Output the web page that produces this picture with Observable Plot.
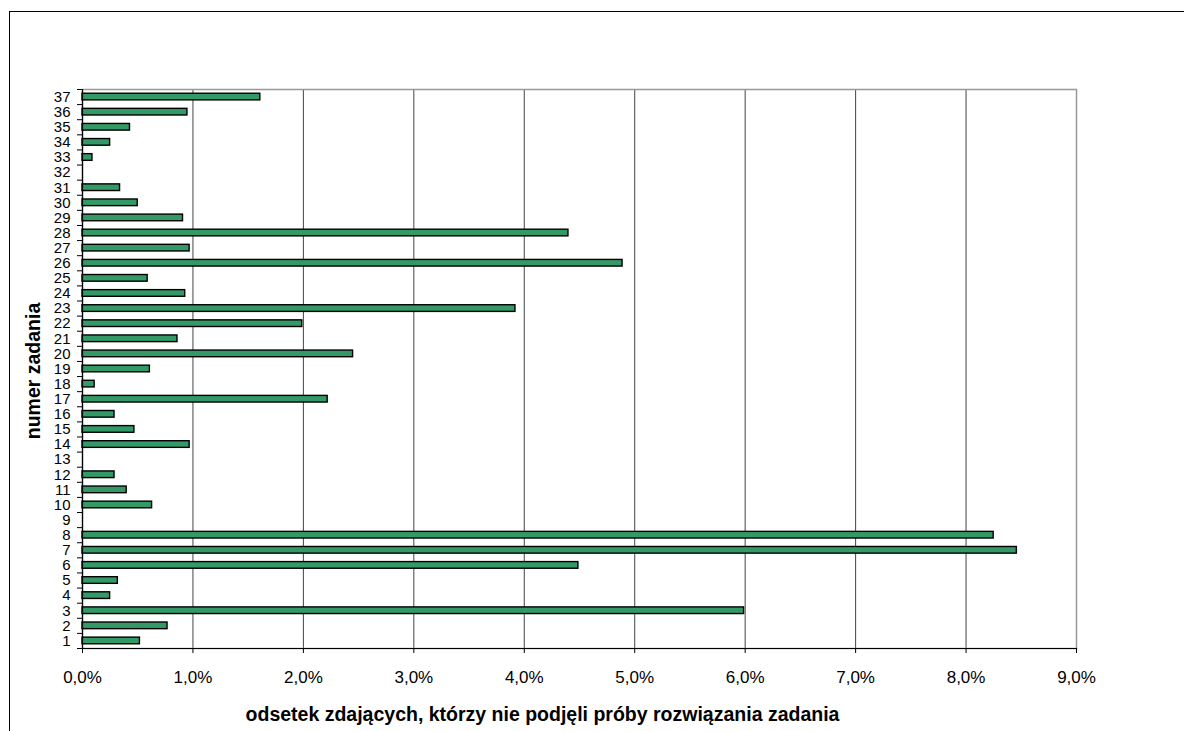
<!DOCTYPE html>
<html><head><meta charset="utf-8">
<script src="https://cdn.jsdelivr.net/npm/d3@7"></script>
<script src="https://cdn.jsdelivr.net/npm/@observablehq/plot@0.6"></script>
<style>
html,body{margin:0;padding:0;background:#fff;overflow:hidden;width:1184px;height:731px;}
#frame{position:absolute;left:9px;top:11px;width:1300px;height:900px;border-left:1px solid #000;border-top:1px solid #000;}
#chart{position:absolute;left:0;top:0;}
</style></head><body>
<div id="frame"></div>
<div id="chart"></div>
<script>
// task numbers
const tasks = [1,2,3,4,5,6,7,8,9,10,11,12,13,14,15,16,17,18,19,20,21,22,23,24,25,26,27,28,29,30,31,32,33,34,35,36,37];
// share of examinees who did not attempt the task (%)
const shares = [0.52,0.77,5.99,0.25,0.32,4.49,8.46,8.25,0,0.63,0.40,0.29,0,0.97,0.47,0.29,2.22,0.11,0.61,2.45,0.86,1.99,3.92,0.93,0.59,4.89,0.97,4.40,0.91,0.50,0.34,0,0.09,0.25,0.43,0.95,1.61];
// x tick values (%)
const xTicks = [0,1,2,3,4,5,6,7,8,9];
const xTitle = "odsetek zdających, którzy nie podjęli próby rozwiązania zadania";
const yTitle = "numer zadania";

const data = tasks.map((t, i) => ({task: t, share: shares[i]}));
const bars = data.filter(d => d.share > 0);
const rowBounds = [0, ...tasks].map(t => t + 0.5);
const fmt = v => v.toFixed(1).replace(".", ",") + "%";

const chart = Plot.plot({
  width: 1184,
  height: 731,
  marginLeft: 82,
  marginRight: 108,
  marginTop: 89,
  marginBottom: 83,
  style: {fontFamily: "'Liberation Sans', Arial, sans-serif", fontSize: "17px", color: "#000", background: "transparent", overflow: "visible"},
  x: {domain: [0, 9]},
  y: {domain: [0.5, tasks.length + 0.5]},
  marks: [
    Plot.gridX(xTicks, {stroke: "#444", strokeOpacity: 1, strokeWidth: 1}),
    Plot.frame({stroke: "#999", strokeWidth: 1.5}),
    Plot.rectX(bars, {
      x: "share",
      y1: d => d.task - 0.22,
      y2: d => d.task + 0.22,
      fill: "#339966",
      stroke: "#000",
      strokeWidth: 1.4
    }),
    Plot.frame({anchor: "left", stroke: "#000", strokeWidth: 1.2}),
    Plot.frame({anchor: "bottom", stroke: "#000", strokeWidth: 1.2}),
    Plot.axisX(xTicks, {tickSize: 5, tickPadding: 17, tickFormat: fmt, label: null, fontSize: 17}),
    Plot.axisY(tasks, {tickSize: 0, tickPadding: 12, tickFormat: d => String(d), label: null, fontSize: 15}),
    Plot.axisY(rowBounds, {tickSize: 5, text: null, label: null}),
    Plot.text([xTitle], {frameAnchor: "bottom", dy: 72, dx: -37, fontWeight: "bold", fontSize: 19.5, fill: "#000"}),
    Plot.text([yTitle], {frameAnchor: "left", textAnchor: "middle", rotate: -90, dx: -49, dy: 2, fontWeight: "bold", fontSize: 19.5, fill: "#000"})
  ]
});
document.getElementById("chart").appendChild(chart);
</script>
</body></html>
